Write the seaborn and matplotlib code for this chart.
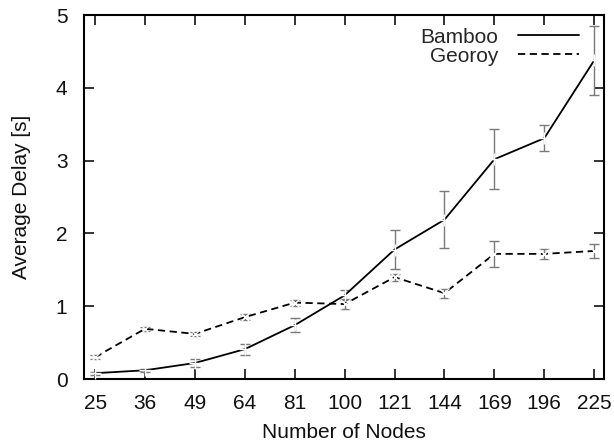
import numpy as np
import pandas as pd
import matplotlib
matplotlib.use("Agg")
import matplotlib.pyplot as plt
import seaborn as sns
from matplotlib.lines import Line2D

nodes = ["25", "36", "49", "64", "81", "100", "121", "144", "169", "196", "225"]
bamboo = [0.08, 0.12, 0.22, 0.41, 0.74, 1.15, 1.78, 2.19, 3.02, 3.31, 4.38]
bamboo_err = [0.02, 0.02, 0.05, 0.075, 0.10, 0.07, 0.27, 0.39, 0.41, 0.18, 0.47]
georoy = [0.30, 0.69, 0.62, 0.85, 1.05, 1.03, 1.40, 1.18, 1.72, 1.72, 1.76]
georoy_err = [0.03, 0.03, 0.03, 0.04, 0.04, 0.07, 0.05, 0.06, 0.18, 0.07, 0.10]

sns.set_theme(style="ticks")
plt.rcParams['font.family'] = ['Liberation Sans', 'DejaVu Sans']

pos = np.arange(len(nodes))
df = pd.DataFrame({
    "pos": np.concatenate([pos, pos]),
    "delay": bamboo + georoy,
    "err": bamboo_err + georoy_err,
    "series": ["Bamboo"] * len(nodes) + ["Georoy"] * len(nodes),
})

fig, ax = plt.subplots(figsize=(6.14, 4.48), dpi=100)
fig.subplots_adjust(left=0.137, right=0.984, top=0.966, bottom=0.154)

for name, grp in df.groupby("series"):
    ax.errorbar(grp["pos"], grp["delay"], yerr=grp["err"], fmt="none",
                ecolor="#7a7a7a", elinewidth=1.0, capsize=3.6, capthick=1.0, zorder=2)

sns.lineplot(data=df[df.series == "Bamboo"], x="pos", y="delay", ax=ax,
             color="black", linewidth=1.3, marker="+", markersize=8,
             markeredgewidth=1.0, legend=False, zorder=3)
sns.lineplot(data=df[df.series == "Georoy"], x="pos", y="delay", ax=ax,
             color="black", linewidth=1.3, linestyle=(0, (4, 2.5)), marker="x",
             markersize=7, markeredgewidth=1.0, legend=False, zorder=3)

ax.set_xlim(-0.22, 10.2)
ax.set_ylim(0, 5)
ax.set_xticks(pos)
ax.set_xticklabels(nodes)
ax.set_yticks([0, 1, 2, 3, 4, 5])
ax.tick_params(direction="in", length=7, width=1.2, labelsize=15, colors="#111111",
               top=True, right=True)
ax.tick_params(axis="x", pad=11)
ax.tick_params(axis="y", pad=12)
for s in ax.spines.values():
    s.set_linewidth(1.5)
    s.set_color("black")
ax.set_xlabel("Number of Nodes", fontsize=15, labelpad=7, color="#111111")
ax.set_ylabel("Average Delay [s]", fontsize=15, labelpad=18, color="#111111")

handles = [Line2D([], [], color="black", linewidth=1.3),
           Line2D([], [], color="black", linewidth=1.3, linestyle=(0, (4, 2.5)))]
ax.legend(handles, ["Bamboo", "Georoy"], loc="upper right", markerfirst=False,
          frameon=False, fontsize=15, handlelength=2.9, borderaxespad=0.2,
          labelspacing=0.0, handletextpad=0.95, bbox_to_anchor=(0.975, 1.0))

fig.savefig("out.png", dpi=100)
